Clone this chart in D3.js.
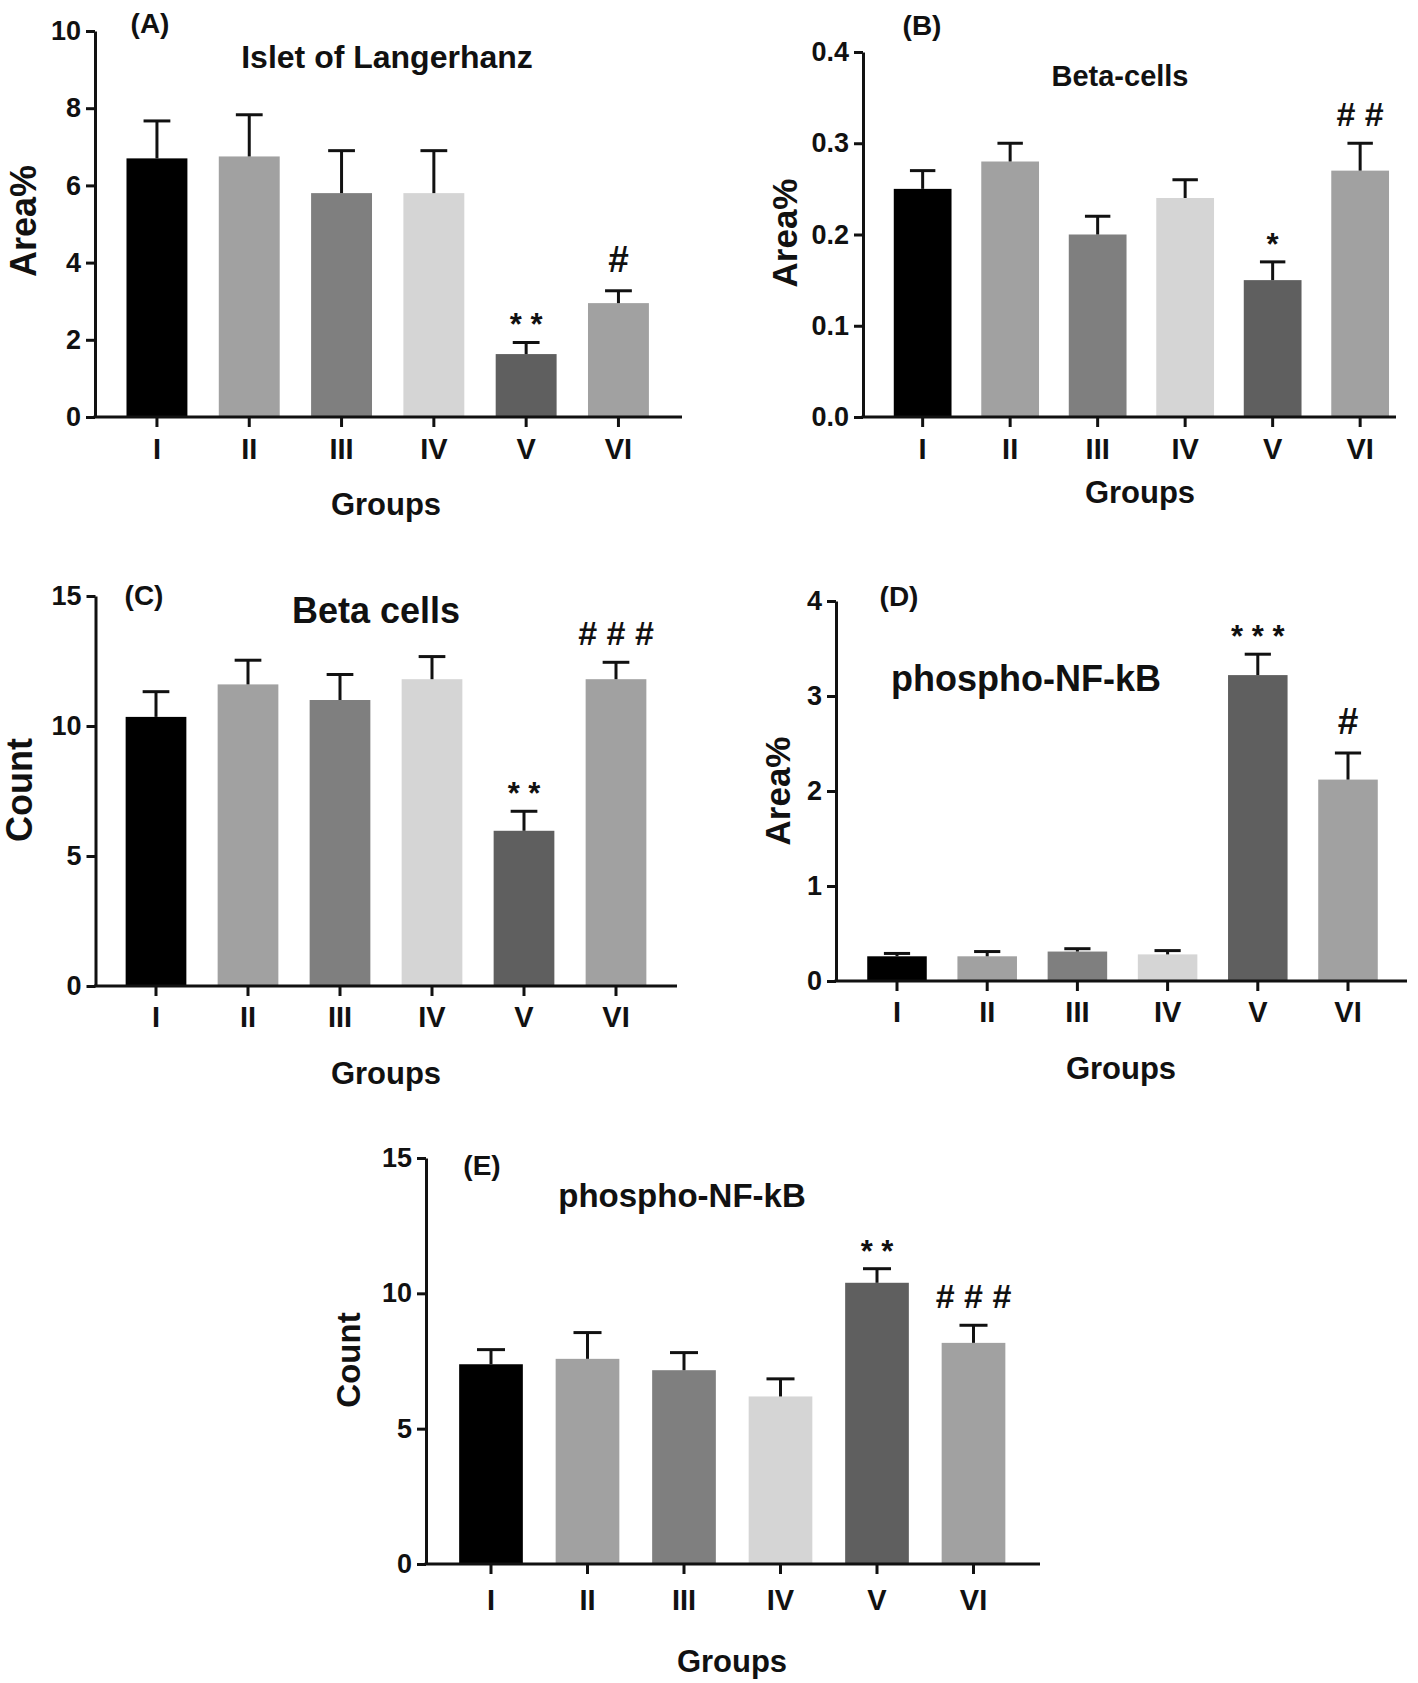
<!DOCTYPE html>
<html><head><meta charset="utf-8">
<script src="https://cdn.jsdelivr.net/npm/d3@7"></script>
<style>
body{margin:0;background:#fff}
svg{display:block}
text{font-family:"Liberation Sans",Arial,sans-serif;font-weight:bold;fill:#111}
</style>
</head><body>
<svg id="chart" width="1418" height="1683"></svg>
<script>
// ---------- data ----------
const groups = ["I","II","III","IV","V","VI"];
const barColors = ["#000000","#a1a1a1","#7f7f7f","#d5d5d5","#5f5f5f","#a1a1a1"];

// (A) Islet of Langerhanz, Area%
const isletMean = [6.70, 6.75, 5.80, 5.80, 1.63, 2.95];
const isletSem  = [0.97, 1.08, 1.10, 1.10, 0.30, 0.32];
const isletSig  = ["", "", "", "", "* *", "#"];
const isletTicks = [0, 2, 4, 6, 8, 10];

// (B) Beta-cells, Area%
const betaAreaMean = [0.25, 0.28, 0.20, 0.24, 0.15, 0.27];
const betaAreaSem  = [0.02, 0.02, 0.02, 0.02, 0.02, 0.03];
const betaAreaSig  = ["", "", "", "", "*", "# #"];
const betaAreaTicks = [0.0, 0.1, 0.2, 0.3, 0.4];

// (C) Beta cells, Count
const betaCountMean = [10.35, 11.60, 11.00, 11.80, 5.97, 11.80];
const betaCountSem  = [0.97, 0.93, 0.98, 0.87, 0.75, 0.65];
const betaCountSig  = ["", "", "", "", "* *", "# # #"];
const betaCountTicks = [0, 5, 10, 15];

// (D) phospho-NF-kB, Area%
const nfkbAreaMean = [0.26, 0.26, 0.31, 0.28, 3.22, 2.12];
const nfkbAreaSem  = [0.03, 0.05, 0.03, 0.04, 0.22, 0.28];
const nfkbAreaSig  = ["", "", "", "", "* * *", "#"];
const nfkbAreaTicks = [0, 1, 2, 3, 4];

// (E) phospho-NF-kB, Count
const nfkbCountMean = [7.38, 7.58, 7.16, 6.19, 10.39, 8.17];
const nfkbCountSem  = [0.54, 0.97, 0.65, 0.65, 0.52, 0.65];
const nfkbCountSig  = ["", "", "", "", "* *", "# # #"];
const nfkbCountTicks = [0, 5, 10, 15];

// ---------- panels ----------
const panels = [
  {letter:"(A)", title:"Islet of Langerhanz", ylabel:"Area%", mean:isletMean, sem:isletSem, sig:isletSig,
   ticks:isletTicks, domain:[0,10], fmt:d3.format("d"),
   L:{x0:95, axisEnd:682, band:[110.8,664.6], y0:417, yTop:31, xpad:11,
      letter:[150,23], title:[387,57,32], ylab:[23,221,36], groups:[386,504]}},
  {letter:"(B)", title:"Beta-cells", ylabel:"Area%", mean:betaAreaMean, sem:betaAreaSem, sig:betaAreaSig,
   ticks:betaAreaTicks, domain:[0,0.4], fmt:d3.format(".1f"),
   L:{x0:863, axisEnd:1396, band:[878.9,1403.9], y0:417, yTop:52, xpad:11,
      letter:[922,25], title:[1120,76,29], ylab:[784,233,35], groups:[1140,492]}},
  {letter:"(C)", title:"Beta cells", ylabel:"Count", mean:betaCountMean, sem:betaCountSem, sig:betaCountSig,
   ticks:betaCountTicks, domain:[0,15], fmt:d3.format("d"),
   L:{x0:95.5, axisEnd:677, band:[110,662], y0:986, yTop:596, xpad:10,
      letter:[144,595], title:[376,610,36], ylab:[19,790,36], groups:[386,1073]}},
  {letter:"(D)", title:"phospho-NF-kB", ylabel:"Area%", mean:nfkbAreaMean, sem:nfkbAreaSem, sig:nfkbAreaSig,
   ticks:nfkbAreaTicks, domain:[0,4], fmt:d3.format("d"),
   L:{x0:836, axisEnd:1407, band:[851.9,1393.1], y0:981, yTop:601, xpad:10,
      letter:[899,596], title:[1026,678,36], ylab:[777,791,35], groups:[1121,1068]}},
  {letter:"(E)", title:"phospho-NF-kB", ylabel:"Count", mean:nfkbCountMean, sem:nfkbCountSem, sig:nfkbCountSig,
   ticks:nfkbCountTicks, domain:[0,15], fmt:d3.format("d"),
   L:{x0:426, axisEnd:1040, band:[442.75,1021.75], y0:1564, yTop:1158, xpad:15,
      letter:[482,1165], title:[682,1195,33], ylab:[348,1360,33], groups:[732,1661]}}
];

const svg = d3.select("#chart");
const ink = "#111";

function drawPanel(p){
  const L = p.L;
  const g = svg.append("g");
  const x = d3.scaleBand().domain(groups).range(L.band).paddingInner(0.34).paddingOuter(0.17);
  const y = d3.scaleLinear().domain(p.domain).range([L.y0, L.yTop]);
  const bw = x.bandwidth();
  const cx = d => x(d) + bw/2;

  // bars
  g.selectAll("rect.bar").data(groups).join("rect")
    .attr("class","bar")
    .attr("x", d => x(d))
    .attr("width", bw)
    .attr("y", (d,i) => y(p.mean[i]))
    .attr("height", (d,i) => L.y0 - y(p.mean[i]))
    .attr("fill", (d,i) => barColors[i]);

  // error bars (upper only)
  const capW = bw * 0.44;
  const eb = g.selectAll("g.eb").data(groups).join("g").attr("class","eb");
  eb.append("line")
    .attr("x1", d => cx(d)).attr("x2", d => cx(d))
    .attr("y1", (d,i) => y(p.mean[i]))
    .attr("y2", (d,i) => y(p.mean[i] + p.sem[i]))
    .attr("stroke", ink).attr("stroke-width", 3);
  eb.append("line")
    .attr("x1", d => cx(d) - capW/2).attr("x2", d => cx(d) + capW/2)
    .attr("y1", (d,i) => y(p.mean[i] + p.sem[i]))
    .attr("y2", (d,i) => y(p.mean[i] + p.sem[i]))
    .attr("stroke", ink).attr("stroke-width", 3);

  // significance marks
  g.selectAll("text.sig").data(groups).join("text")
    .attr("class","sig")
    .attr("text-anchor","middle")
    .attr("x", d => cx(d))
    .each(function(d,i){
      const s = p.sig[i];
      const top = y(p.mean[i] + p.sem[i]);
      const t = d3.select(this).text(s);
      if (s.indexOf("*") >= 0){
        t.attr("font-size", 31).attr("y", top - 25 + 0.58*31);
      } else if (s.length === 1){
        t.attr("font-size", 37).attr("y", top - 32 + 0.35*37);
      } else {
        t.attr("font-size", 34).attr("y", top - 29 + 0.35*34);
      }
    });

  // y axis
  const ya = d3.axisLeft(y).tickValues(p.ticks).tickFormat(p.fmt)
    .tickSize(9).tickPadding(5).tickSizeOuter(0);
  const yg = g.append("g").attr("transform", `translate(${L.x0},0)`).call(ya);
  yg.selectAll("path,line").attr("stroke", ink).attr("stroke-width", 3);
  yg.selectAll("text").attr("font-size", 27).attr("fill", ink)
    .style("font-family",'"Liberation Sans",Arial,sans-serif').style("font-weight","bold");

  // x axis
  g.append("line")
    .attr("x1", L.x0 - 1.5).attr("x2", L.axisEnd)
    .attr("y1", L.y0).attr("y2", L.y0)
    .attr("stroke", ink).attr("stroke-width", 3);
  const xa = d3.axisBottom(x).tickSize(10).tickPadding(L.xpad).tickSizeOuter(0);
  const xg = g.append("g").attr("transform", `translate(0,${L.y0})`).call(xa);
  xg.select(".domain").remove();
  xg.selectAll("line").attr("stroke", ink).attr("stroke-width", 3);
  xg.selectAll("text").attr("font-size", 29).attr("fill", ink)
    .style("font-family",'"Liberation Sans",Arial,sans-serif').style("font-weight","bold");

  // labels
  g.append("text").attr("x", L.letter[0]).attr("y", L.letter[1])
    .attr("text-anchor","middle").attr("dominant-baseline","central")
    .attr("font-size", 28).text(p.letter);
  g.append("text").attr("x", L.title[0]).attr("y", L.title[1])
    .attr("text-anchor","middle").attr("dominant-baseline","central")
    .attr("font-size", L.title[2]).text(p.title);
  g.append("text")
    .attr("transform", `translate(${L.ylab[0]},${L.ylab[1]}) rotate(-90)`)
    .attr("text-anchor","middle").attr("dominant-baseline","central")
    .attr("font-size", L.ylab[2]).text(p.ylabel);
  g.append("text").attr("x", L.groups[0]).attr("y", L.groups[1])
    .attr("text-anchor","middle").attr("dominant-baseline","central")
    .attr("font-size", 31).text("Groups");
}

panels.forEach(drawPanel);
</script>
</body></html>
